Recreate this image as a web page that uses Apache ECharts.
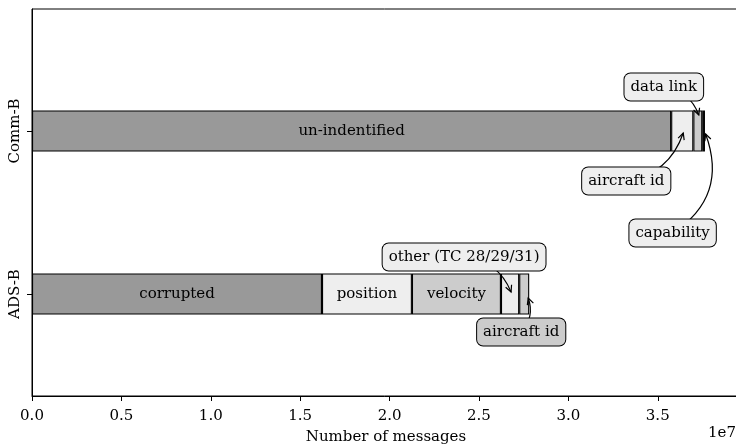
<!DOCTYPE html>
<html>
<head>
<meta charset="utf-8">
<script src="https://cdn.jsdelivr.net/npm/echarts@6/dist/echarts.min.js"></script>
<style>
  html, body { margin: 0; padding: 0; background: #fff; }
  #chart { width: 736px; height: 445px; }
</style>
</head>
<body>
<div id="chart"></div>
<script>
// data (messages)
const categories = ['ADS-B', 'Comm-B'];
const adsbNames = ['corrupted', 'position', 'velocity', 'other (TC 28/29/31)', 'aircraft id'];
const adsbValues = [1.622e7, 0.503e7, 0.498e7, 0.102e7, 0.056e7];
const adsbColors = ['#999999', '#eeeeee', '#cccccc', '#eeeeee', '#cccccc'];
const commbNames = ['un-indentified', 'aircraft id', 'data link', 'capability'];
const commbValues = [3.575e7, 0.124e7, 0.050e7, 0.015e7];
const commbColors = ['#999999', '#eeeeee', '#cccccc', '#111111'];
const inlineAdsb = 3;   // first 3 segments labelled inside the bar
const inlineCommb = 1;
const xMax = 3.96e7;

const FONT = 'DejaVu Serif';
const FS = 15;
const chart = echarts.init(document.getElementById('chart'));

function item(v, color, name, inline) {
  if (v == null) return '-';
  return {
    value: v,
    name: name,
    itemStyle: { color: color },
    label: { show: inline, formatter: name }
  };
}

const nSeg = Math.max(adsbValues.length, commbValues.length);
const series = [];
for (let i = 0; i < nSeg; i++) {
  series.push({
    type: 'bar',
    stack: 'total',
    xAxisIndex: 1,
    yAxisIndex: 1,
    barWidth: 41,
    itemStyle: { borderColor: '#000', borderWidth: 1.1 },
    label: { position: 'inside', color: '#000', fontFamily: FONT, fontSize: FS },
    emphasis: { disabled: true },
    data: [
      item(adsbValues[i], adsbColors[i], adsbNames[i], i < inlineAdsb),
      item(commbValues[i], commbColors[i], commbNames[i], i < inlineCommb)
    ]
  });
}

chart.setOption({
  animation: false,
  textStyle: { fontFamily: FONT, color: '#000' },
  grid: [
    { left: 32, width: 708, top: 9, bottom: 49, outerBoundsMode: 'none', containLabel: false,
      show: true, borderColor: '#000', borderWidth: 1, backgroundColor: 'transparent' },
    { left: 32, width: 708, top: 49.5, bottom: 69.5, outerBoundsMode: 'none', containLabel: false }
  ],
  xAxis: [
    {
      gridIndex: 0, type: 'value', min: 0, max: xMax, interval: 0.5e7,
      axisLine: { show: true, lineStyle: { color: '#000', width: 1 } },
      axisTick: { show: true, length: 5, lineStyle: { color: '#000' } },
      splitLine: { show: false },
      axisLabel: {
        color: '#000', fontSize: FS, margin: 13,
        formatter: v => (v > 3.6e7 ? '' : (v / 1e7).toFixed(1))
      },
      name: 'Number of messages', nameLocation: 'middle', nameGap: 34,
      nameTextStyle: { fontSize: FS, color: '#000' }
    },
    { gridIndex: 1, type: 'value', min: 0, max: xMax, show: false }
  ],
  yAxis: [
    {
      gridIndex: 0, type: 'value', splitLine: { show: false },
      axisLine: { show: true, lineStyle: { color: '#000' } },
      axisTick: { show: false }, axisLabel: { show: false }
    },
    {
      gridIndex: 1, type: 'category', data: categories,
      axisLine: { show: true, lineStyle: { color: '#000' } },
      axisTick: { show: true, length: 5, alignWithLabel: true, lineStyle: { color: '#000' } },
      axisLabel: { rotate: 90, color: '#000', fontSize: FS, margin: 9 },
      splitLine: { show: false }
    }
  ],
  series: series
});

// annotations: segment, tip offset from segment middle, box offset from tip, arc rad
const annotations = [
  { cat: 1, seg: 2, fill: '#eeeeee', tip: [1, -16], box: [-35, -28], rad: -0.3 },
  { cat: 1, seg: 1, fill: '#eeeeee', tip: [1, 2], box: [-57, 48], rad: 0.3 },
  { cat: 1, seg: 3, fill: '#eeeeee', tip: [2, 3], box: [-33, 99], rad: 0.4 },
  { cat: 0, seg: 3, fill: '#eeeeee', tip: [1, -2], box: [-47, -35], rad: -0.3 },
  { cat: 0, seg: 4, fill: '#cccccc', tip: [4, 4], box: [-7, 34], rad: 0.3 }
];

const graphics = [];
annotations.forEach(a => {
  const vals = a.cat === 0 ? adsbValues : commbValues;
  const names = a.cat === 0 ? adsbNames : commbNames;
  let start = 0;
  for (let i = 0; i < a.seg; i++) start += vals[i];
  const mid = start + vals[a.seg] / 2;
  const p = chart.convertToPixel({ xAxisIndex: 1, yAxisIndex: 1 }, [mid, a.cat]);
  const tx = p[0] + a.tip[0], ty = p[1] + a.tip[1];
  const bx = tx + a.box[0], by = ty + a.box[1];
  const dx = tx - bx, dy = ty - by;
  const cx = (bx + tx) / 2 - a.rad * dy, cy = (by + ty) / 2 + a.rad * dx;
  graphics.push({
    type: 'bezierCurve', z: 100,
    shape: { x1: bx, y1: by, x2: tx, y2: ty, cpx1: cx, cpy1: cy },
    style: { stroke: '#000', lineWidth: 1.2, fill: null }
  });
  let ux = tx - cx, uy = ty - cy;
  const len = Math.hypot(ux, uy);
  ux /= len; uy /= len;
  const L = 6.5, W = 3.2;
  graphics.push({
    type: 'polyline', z: 100,
    shape: { points: [
      [tx - L * ux - W * uy, ty - L * uy + W * ux],
      [tx, ty],
      [tx - L * ux + W * uy, ty - L * uy - W * ux]
    ] },
    style: { stroke: '#000', lineWidth: 1.2, fill: null }
  });
  graphics.push({
    type: 'text', z: 101, x: bx, y: by,
    style: {
      text: names[a.seg], font: FS + 'px "' + FONT + '"', fill: '#000',
      align: 'center', verticalAlign: 'middle',
      backgroundColor: a.fill, borderColor: '#000', borderWidth: 1,
      borderRadius: 6, padding: [6, 6]
    }
  });
});

graphics.push({
  type: 'text', right: 0, top: 426,
  style: { text: '1e7', font: FS + 'px "' + FONT + '"', fill: '#000' }
});

chart.setOption({ graphic: graphics });
</script>
</body>
</html>
